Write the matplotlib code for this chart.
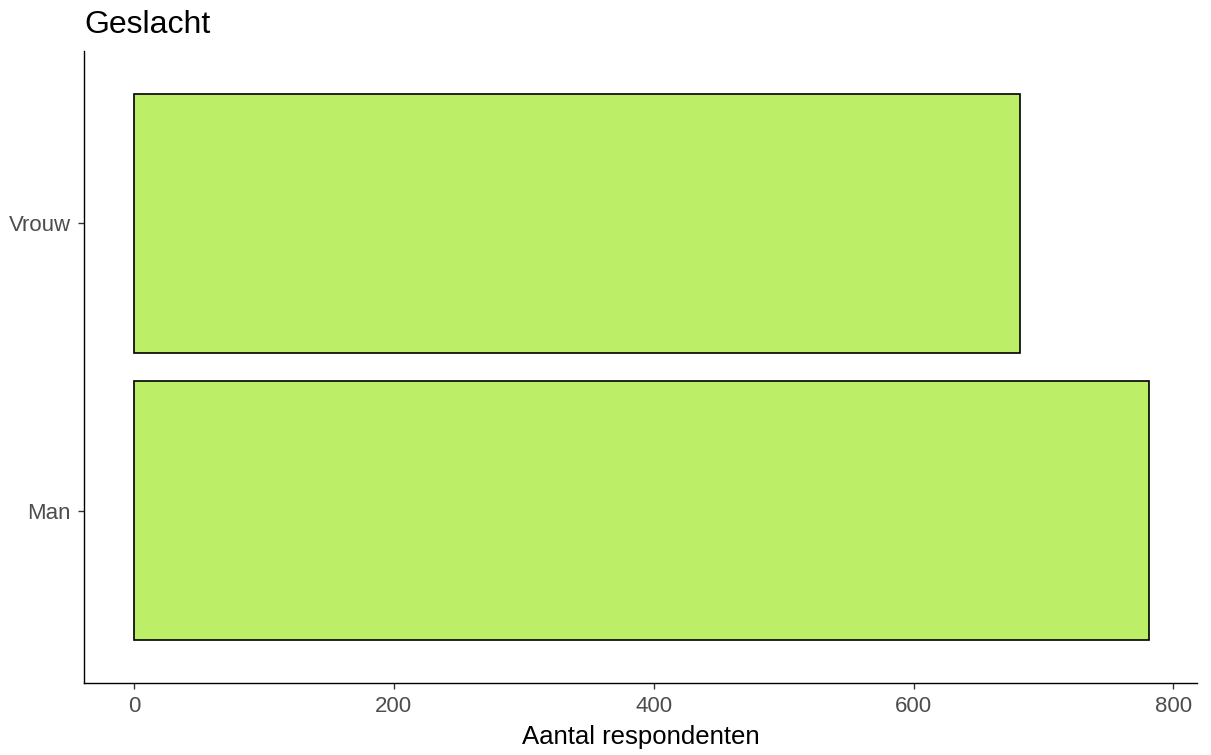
import matplotlib.pyplot as plt

plt.rcParams["font.family"] = ["Liberation Sans", "DejaVu Sans"]

# data
categories = ["Man", "Vrouw"]
counts = [781, 682]

fig = plt.figure(figsize=(12.11, 7.55), dpi=100)
ax = fig.add_axes([84 / 1211, 1 - 683 / 755, (1197 - 84) / 1211, (683 - 51) / 755])

pos = list(range(1, len(categories) + 1))
ax.barh(pos, counts, height=0.9, color="#BCEE68", edgecolor="black", linewidth=1.2)

ax.set_xlim(-38.5, 818.2)
ax.set_ylim(0.4, len(categories) + 0.6)
ax.set_yticks(pos)
ax.set_yticklabels(categories)
ax.set_xticks([0, 200, 400, 600, 800])

for s in ["top", "right"]:
    ax.spines[s].set_visible(False)
for s in ["left", "bottom"]:
    ax.spines[s].set_linewidth(1.0)
    ax.spines[s].set_color("black")

ax.tick_params(axis="both", colors="#333333", labelcolor="#4D4D4D",
               labelsize=16, length=4.3, width=1.0, pad=5)
ax.set_xlabel("Aantal respondenten", fontsize=18.5, color="black", labelpad=6)
ax.set_title("Geslacht", fontsize=23, loc="left", x=0.0, pad=13)

fig.savefig("out.png", dpi=100)
